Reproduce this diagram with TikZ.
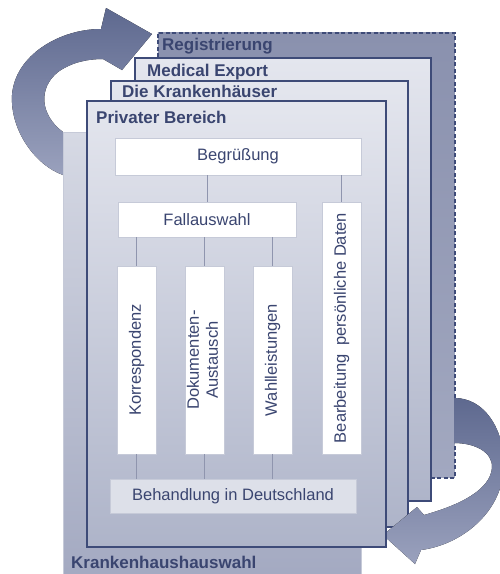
\documentclass[tikz,border=0pt]{standalone}
\usepackage{fontspec}
\setmainfont{Liberation Sans}
\setsansfont{Liberation Sans}
\usepackage{graphicx}
\usetikzlibrary{positioning}
\definecolor{navyline}{HTML}{3E4B78}
\definecolor{navytext}{HTML}{3A4570}
\definecolor{registtop}{HTML}{8A91AE}
\definecolor{registbottom}{HTML}{A2A8C0}
\definecolor{paneltop}{HTML}{D6D9E4}
\definecolor{panelbottom}{HTML}{A3A9C1}
\definecolor{pagetop}{HTML}{E4E6EE}
\definecolor{pagebottom}{HTML}{AEB4C9}
\definecolor{boxline}{HTML}{C6CAD8}
\definecolor{behandfill}{HTML}{DDE0E9}
\definecolor{connline}{HTML}{8F95AE}
\definecolor{arrowdark}{HTML}{5E698F}
\definecolor{arrowlight}{HTML}{9AA1BD}

\begin{document}
\begin{tikzpicture}[
  x=1pt, y=-1pt,
  font=\sffamily,
  pagebox/.style={draw=navyline, line width=1.6pt, anchor=north west, inner sep=0pt, top color=pagetop, bottom color=pagebottom},
  pagelabel/.style={font=\sffamily\fontsize{17}{19}\selectfont\bfseries, text=navytext, inner sep=0pt, text height=12pt, text depth=3.5pt},
  stepbox/.style={draw=boxline, line width=0.8pt, fill=white, text=navytext, inner sep=0pt, font=\sffamily\fontsize{16.5}{19}\selectfont},
  tallbox/.style={stepbox, minimum width=39pt, minimum height=188pt},
  link/.style={draw=connline, line width=0.8pt},
  bigarrow/.style={top color=arrowdark, bottom color=arrowlight},
]
\useasboundingbox (0,0) rectangle (499,574);
\fill[white] (0,0) rectangle (499,574);

% ========== stacked pages (back to front) ==========
\node[pagebox, dashed, dash pattern=on 4pt off 2.5pt, top color=registtop, bottom color=registbottom,
  minimum width=297pt, minimum height=445pt] (regist) at (157,32) {};
\node[pagelabel, below right=6pt and 5pt of regist.north west] (lblregist) {Registrierung};

\node[pagebox, minimum width=296pt, minimum height=443pt] (medexp) at (134,57) {};
\node[pagelabel, below right=7pt and 13pt of medexp.north west] (lblmedexp) {Medical Export};

\node[pagebox, minimum width=297pt, minimum height=446pt] (kliniken) at (110,80) {};
\node[pagelabel, below right=5pt and 12pt of kliniken.north west] (lblkliniken) {Die Krankenhäuser};

% big curved arrows
\fill[bigarrow] (63,175) -- (63,132)
  .. controls (40,115) and (38,88) .. (58,72)
  .. controls (72,62) and (88,59) .. (103,59)
  -- (122,70) -- (152,34) -- (106,8) -- (101,29)
  .. controls (60,29) and (15,55) .. (12,95)
  .. controls (10,130) and (35,165) .. (63,175) -- cycle;
\fill[bigarrow] (454,398)
  .. controls (490,398) and (508,440) .. (503,475)
  .. controls (498,515) and (460,545) .. (421,550)
  -- (415,564) -- (383,535) -- (417,507) -- (424,515)
  .. controls (460,505) and (490,490) .. (492,468)
  .. controls (493,452) and (475,443) .. (454,443) -- cycle;

% Krankenhausauswahl panel
\node[pagebox, draw=boxline, line width=0.8pt, top color=paneltop, bottom color=panelbottom,
  minimum width=298pt, minimum height=448pt] (wahlpanel) at (63,132) {};

% ========== Privater Bereich (front) ==========
\node[pagebox, minimum width=299pt, minimum height=446pt] (privat) at (86,100) {};
\node[pagelabel, below right=11pt and 10pt of privat.north west] (lblprivat) {Privater Bereich};

\coordinate (panelcorner) at (wahlpanel.west |- privat.south);
\node[pagelabel, below right=9pt and 8pt of panelcorner] (lblwahl) {Krankenhaushauswahl};

% steps
\node[stepbox, minimum width=246pt, minimum height=37pt] (begr) at (238,156.5) {Begrüßung};
\node[stepbox, minimum width=178pt, minimum height=35pt] (fall) at (207,219.5) {Fallauswahl};
\node[tallbox] (korr) at (136.5,360) {\rotatebox{90}{Korrespondenz}};
\node[tallbox] (doku) at (204.5,360) {\rotatebox{90}{\begin{tabular}{@{}c@{}}Dokumenten-\\Austausch\end{tabular}}};
\node[tallbox] (wahl) at (272.5,360) {\rotatebox{90}{Wahlleistungen}};
\node[tallbox, minimum height=252pt] (bearb) at (341.5,328) {\rotatebox{90}{Bearbeitung\enspace persönliche Daten}};
\node[stepbox, fill=behandfill, minimum width=246pt, minimum height=34pt] (behand) at (233,496) {Behandlung in Deutschland};

% connectors
\draw[link] (fall.north) -- (fall.north |- begr.south);
\draw[link] (bearb.north) -- (bearb.north |- begr.south);
\foreach \n in {korr,doku,wahl} {
  \draw[link] (\n.north) -- (\n.north |- fall.south);
  \draw[link] (\n.south) -- (\n.south |- behand.north);
}

\end{tikzpicture}
\end{document}
